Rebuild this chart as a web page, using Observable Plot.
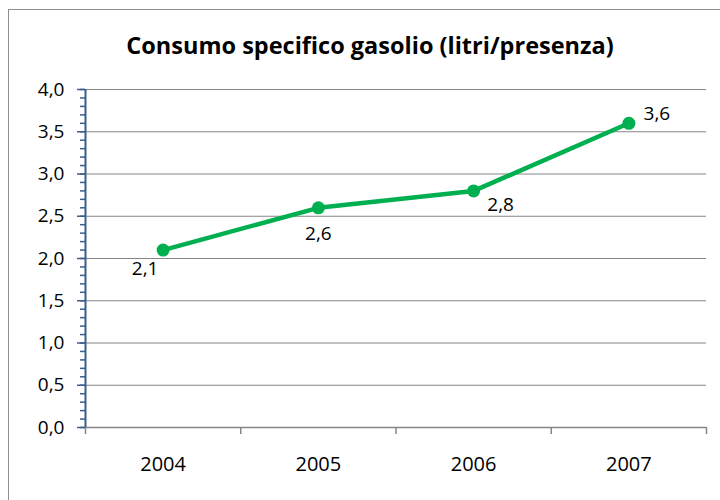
<!DOCTYPE html>
<html>
<head>
<meta charset="utf-8">
<script src="https://cdn.jsdelivr.net/npm/d3@7"></script>
<script src="https://cdn.jsdelivr.net/npm/@observablehq/plot@0.6"></script>
<style>
  html, body { margin: 0; padding: 0; background: #fff; overflow: hidden; width: 720px; height: 500px; }
  #frame { position: absolute; left: 8px; top: 9px; width: 760px; height: 560px; border: 1px solid #8f8f8f; box-sizing: border-box; }
  #title { position: absolute; left: 8px; width: 724px; top: 29px; text-align: center; font-family: "Open Sans", sans-serif; font-weight: 700; font-size: 23.5px; line-height: 32px; color: #000; }
  #chart { position: absolute; left: 0; top: 0; }
</style>
</head>
<body>
<div id="frame"></div>
<div id="title">Consumo specifico gasolio (litri/presenza)</div>
<div id="chart"></div>
<script>
const years = ["2004", "2005", "2006", "2007"];
const values = [2.1, 2.6, 2.8, 3.6];
const yTicks = [0, 0.5, 1, 1.5, 2, 2.5, 3, 3.5, 4];
const labelOffsets = [[-18, 19], [0, 26], [27, 14], [28, -9]];

const data = years.map((year, i) => ({year, i, value: values[i], dx: labelOffsets[i][0], dy: labelOffsets[i][1]}));
const fmt = v => d3.format(".1f")(v).replace(".", ",");
const minor = d3.range(0, 41).map(k => k / 10);
const green = "#00B050";
const axisBlue = "#3B5E8C";
const font = "'Open Sans', sans-serif";

const plot = Plot.plot({
  width: 720,
  height: 500,
  marginLeft: 85,
  marginRight: 14,
  marginTop: 89,
  marginBottom: 73,
  style: {fontFamily: font, fontSize: "19px", color: "#000", background: "transparent"},
  x: {domain: [0, years.length], axis: null},
  y: {domain: [0, 4], axis: null},
  marks: [
    Plot.gridY(yTicks, {stroke: "#868686", strokeOpacity: 1, strokeWidth: 1.2}),
    Plot.ruleY([0], {stroke: "#868686", strokeWidth: 1.5}),
    Plot.axisX(d3.range(0, years.length + 1), {tickSize: 7, stroke: "#868686", strokeWidth: 1.5, text: null, label: null}),
    Plot.axisX(years.map((y, i) => i + 0.5), {tickSize: 0, tickPadding: 29, tickFormat: v => years[Math.floor(v)], fontSize: 20, label: null}),
    Plot.axisY(minor, {tickSize: 5, stroke: axisBlue, strokeWidth: 1.5, text: null, label: null}),
    Plot.axisY(yTicks, {tickSize: 8, tickPadding: 13, stroke: axisBlue, strokeWidth: 1.5, tickFormat: fmt, fontSize: 19, label: null}),
    Plot.ruleX([0], {stroke: axisBlue, strokeWidth: 2}),
    Plot.line(data, {x: d => d.i + 0.5, y: "value", stroke: green, strokeWidth: 4.5}),
    Plot.dot(data, {x: d => d.i + 0.5, y: "value", fill: green, r: 6.5}),
    ...data.map(d => Plot.text([d], {x: d => d.i + 0.5, y: "value", text: d => fmt(d.value), dx: d.dx, dy: d.dy, fill: "#000", fontSize: 19}))
  ]
});
document.getElementById("chart").appendChild(plot);
</script>
</body>
</html>
